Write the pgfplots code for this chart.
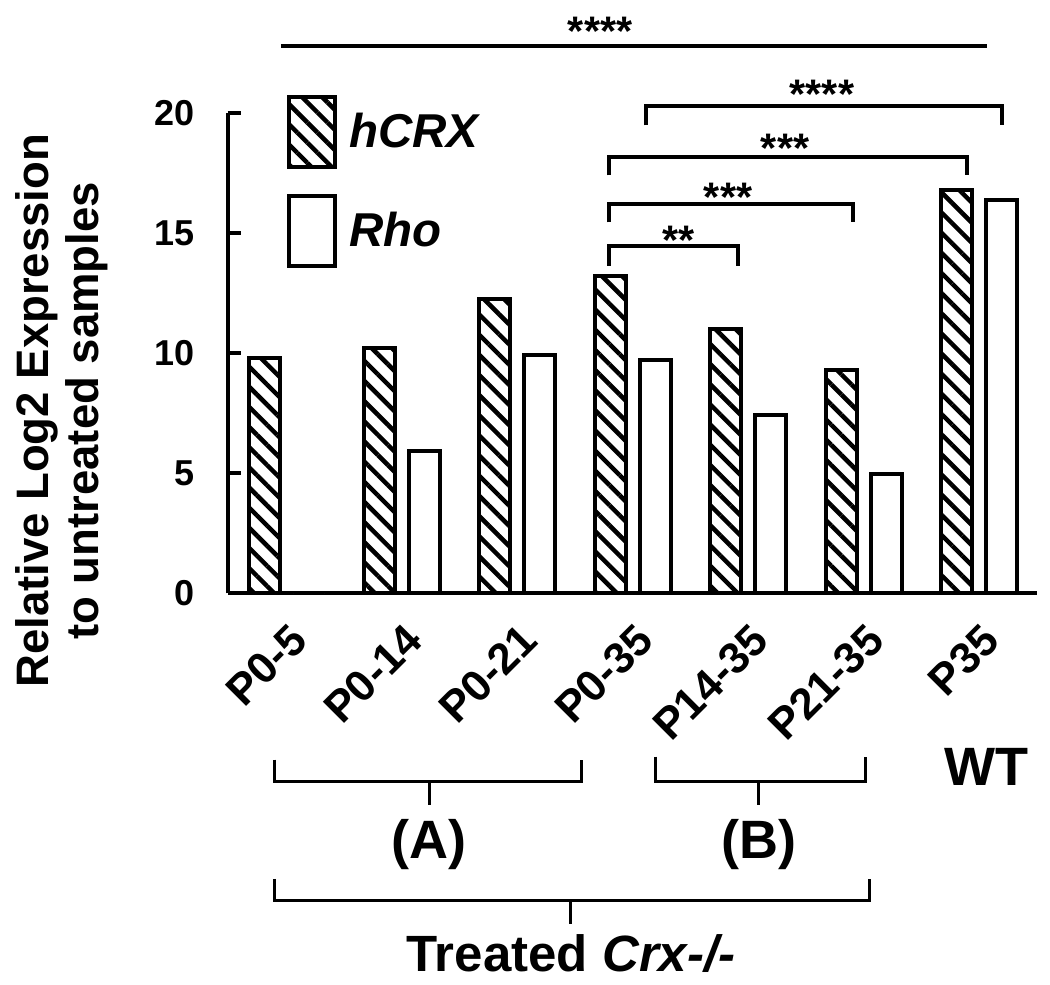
\documentclass[border=0pt]{standalone}
\usepackage{fontspec}
\setmainfont{Liberation Sans}
\usepackage{pgfplots}
\pgfplotsset{compat=1.18}
\usetikzlibrary{patterns.meta}

\begin{document}
\begin{tikzpicture}
\begin{axis}[
  x=46.16pt, y=9.6pt,
  xmin=-0.511, xmax=6.50, ymin=0, ymax=20,
  axis x line*=bottom, axis y line*=left,
  axis line style={line width=1.6pt, -},
  clip=false,
  ybar,
  bar width=12.4pt,
  xtick={0,...,6},
  xticklabels={P0-5,P0-14,P0-21,P0-35,P14-35,P21-35,P35},
  xtick style={draw=none},
  ytick={0,5,10,15,20},
  ytick style={line width=1.6pt, black},
  major tick length=5.2pt,
  tick align=inside,
  /pgf/number format/assume math mode=true,
  yticklabel style={font=\bfseries\fontsize{14.4}{17}\selectfont, inner sep=0pt, xshift=-13pt},
  xticklabel style={font=\bfseries\fontsize{17.5}{21}\selectfont, xshift=0.5pt, yshift=-11pt, rotate=45, anchor=north east, inner sep=0pt},
  legend style={at={(axis cs:0,20.79)}, anchor=north west, draw=none, fill=none, inner sep=0pt,
    row sep=10pt, column sep=4.8pt, nodes={inner sep=0pt},
    font=\bfseries\itshape\fontsize{19}{22}\selectfont},
  legend cell align=left,
  legend image code/.code={\draw[#1] (0pt,-14pt) rectangle (18.4pt,14pt);},
]
\addplot[bar shift=-9pt, draw=black, line width=1.6pt, fill=white,
  postaction={pattern={Lines[angle=-45,distance=5.7pt,line width=1.8pt]}}]
  coordinates {(0,9.81) (1,10.23) (2,12.27) (3,13.23) (4,11.02) (5,9.31) (6,16.81)};
\addlegendentry{hCRX}
\addplot[bar shift=9pt, draw=black, line width=1.6pt, fill=white]
  coordinates {(0,0) (1,5.94) (2,9.94) (3,9.73) (4,7.44) (5,4.98) (6,16.40)};
\addlegendentry{Rho}

% significance annotations
\draw[line width=1.6pt] (axis cs:-0.048,22.80) -- (axis cs:6.066,22.80);
\node[anchor=base, font=\bfseries\fontsize{16.5}{18}\selectfont, inner sep=0pt] at (axis cs:2.717,22.82) {****};

\draw[line width=1.6pt] (axis cs:3.115,19.50) -- (axis cs:3.115,20.30) -- (axis cs:6.198,20.30) -- (axis cs:6.198,19.50);
\node[anchor=base, font=\bfseries\fontsize{16.5}{18}\selectfont, inner sep=0pt] at (axis cs:4.640,20.19) {****};

\draw[line width=1.6pt] (axis cs:2.795,17.41) -- (axis cs:2.795,18.16) -- (axis cs:5.897,18.16) -- (axis cs:5.897,17.41);
\node[anchor=base, font=\bfseries\fontsize{16.5}{18}\selectfont, inner sep=0pt] at (axis cs:4.320,17.93) {***};

\draw[line width=1.6pt] (axis cs:2.795,15.45) -- (axis cs:2.795,16.24) -- (axis cs:4.909,16.24) -- (axis cs:4.909,15.45);
\node[anchor=base, font=\bfseries\fontsize{16.5}{18}\selectfont, inner sep=0pt] at (axis cs:3.826,15.89) {***};

\draw[line width=1.6pt] (axis cs:2.795,13.65) -- (axis cs:2.795,14.49) -- (axis cs:3.912,14.49) -- (axis cs:3.912,13.65);
\node[anchor=base, font=\bfseries\fontsize{16.5}{18}\selectfont, inner sep=0pt] at (axis cs:3.393,14.13) {**};

% y label
\node[rotate=90, align=center, font=\bfseries\fontsize{18.2}{20}\selectfont] at (axis cs:-1.95,7.60) {Relative Log2 Expression\\to untreated samples};

% group brackets below
\draw[line width=1.2pt] (axis cs:-0.100,-6.93) -- (axis cs:-0.100,-7.85) -- (axis cs:2.552,-7.85) -- (axis cs:2.552,-6.93);
\draw[line width=1.2pt] (axis cs:1.235,-7.85) -- (axis cs:1.235,-8.81);
\node[font=\bfseries\fontsize{21.6}{24}\selectfont] at (axis cs:1.235,-10.48) {(A)};

\draw[line width=1.2pt] (axis cs:3.193,-6.81) -- (axis cs:3.193,-7.85) -- (axis cs:5.013,-7.85) -- (axis cs:5.013,-6.81);
\draw[line width=1.2pt] (axis cs:4.094,-7.85) -- (axis cs:4.094,-8.81);
\node[font=\bfseries\fontsize{21.6}{24}\selectfont] at (axis cs:4.094,-10.48) {(B)};

\node[font=\bfseries\fontsize{21.6}{24}\selectfont] at (axis cs:6.066,-7.22) {WT};

\draw[line width=1.2pt] (axis cs:-0.100,-11.90) -- (axis cs:-0.100,-12.82) -- (axis cs:5.048,-12.82) -- (axis cs:5.048,-11.90);
\draw[line width=1.2pt] (axis cs:2.465,-12.82) -- (axis cs:2.465,-13.78);
\node[font=\bfseries\fontsize{20.4}{24}\selectfont] at (axis cs:2.465,-14.99) {Treated \textit{Crx-/-}};

% page extent
\path (axis cs:-2.483,24.72) rectangle (axis cs:6.616,-16.28);
\end{axis}
\end{tikzpicture}
\end{document}
